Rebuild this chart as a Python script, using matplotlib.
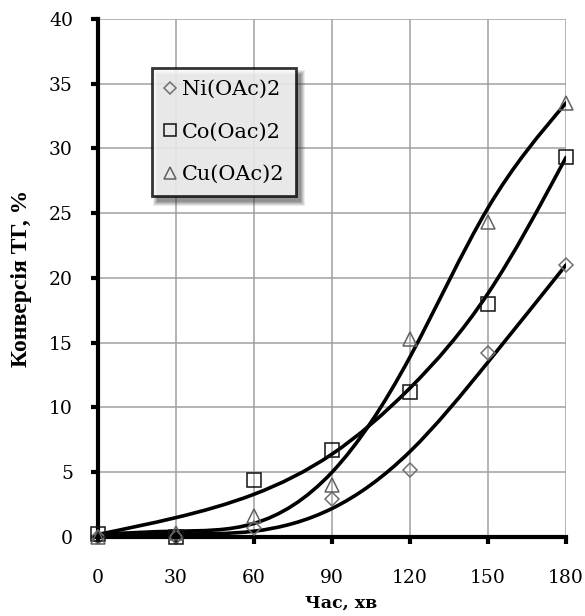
import numpy as np
import matplotlib
matplotlib.use("Agg")
import matplotlib.pyplot as plt
from matplotlib.path import Path
from matplotlib.patches import PathPatch, Rectangle

# measured points
time_min = [0, 30, 60, 90, 120, 150, 180]
ni_oac2 = [0.0, 0.0, 0.7, 2.9, 5.2, 14.2, 21.0]
co_oac2 = [0.2, 0.0, 4.4, 6.7, 11.2, 18.0, 29.3]
cu_oac2 = [0.0, 0.3, 1.6, 4.0, 15.3, 24.3, 33.5]
# trend (model) curves at the same times
ni_trend = [0.2, 0.25, 0.45, 2.2, 6.6, 13.5, 21.0]
co_trend = [0.2, 1.5, 3.3, 6.4, 11.5, 18.8, 29.3]
cu_trend = [0.2, 0.45, 1.05, 5.0, 13.9, 25.4, 33.5]
series_labels = ["Ni(OAc)2", "Co(Oac)2", "Cu(OAc)2"]
x_ticks = [0, 30, 60, 90, 120, 150, 180]
y_ticks = [0, 5, 10, 15, 20, 25, 30, 35, 40]

plt.rcParams['font.family'] = ['DejaVu Serif']


def smooth_path(xv, yv):
    """Natural cubic spline through the nodes, expressed as a Bezier path."""
    x = np.asarray(xv, float)
    y = np.asarray(yv, float)
    n = len(x)
    h = np.diff(x)
    A = np.zeros((n, n))
    b = np.zeros(n)
    A[0, 0] = A[-1, -1] = 1.0
    for i in range(1, n - 1):
        A[i, i - 1] = h[i - 1]
        A[i, i] = 2 * (h[i - 1] + h[i])
        A[i, i + 1] = h[i]
        b[i] = 6 * ((y[i + 1] - y[i]) / h[i] - (y[i] - y[i - 1]) / h[i - 1])
    M = np.linalg.solve(A, b)
    d = np.zeros(n)
    for i in range(n - 1):
        d[i] = (y[i + 1] - y[i]) / h[i] - h[i] * (2 * M[i] + M[i + 1]) / 6
    d[-1] = (y[-1] - y[-2]) / h[-1] + h[-1] * (M[-2] + 2 * M[-1]) / 6
    verts = [(x[0], y[0])]
    codes = [Path.MOVETO]
    for i in range(n - 1):
        verts += [(x[i] + h[i] / 3, y[i] + d[i] * h[i] / 3),
                  (x[i + 1] - h[i] / 3, y[i + 1] - d[i + 1] * h[i] / 3),
                  (x[i + 1], y[i + 1])]
        codes += [Path.CURVE4] * 3
    return Path(verts, codes)


fig = plt.figure(figsize=(5.85, 6.16), dpi=100)
ax = fig.add_axes([0.1675, 0.1282, 0.8, 0.8413])

markers = ['D', 's', '^']
msizes = [7.5, 9.5, 10]
mecs = ['#707070', '#111111', '#606060']
handles = []
for ys, tr, m, ms, mec, lab in zip([ni_oac2, co_oac2, cu_oac2],
                                   [ni_trend, co_trend, cu_trend],
                                   markers, msizes, mecs, series_labels):
    ax.add_patch(PathPatch(smooth_path(time_min, tr), fc='none', ec='black',
                           lw=2.6, zorder=3, capstyle='round'))
    h, = ax.plot(time_min, ys, linestyle='none', marker=m, ms=ms, mfc='none',
                 mec=mec, mew=1.1, zorder=4, clip_on=False, label=lab)
    handles.append(h)

ax.set_xlim(0, 180)
ax.set_ylim(0, 40)
ax.set_xticks(x_ticks)
ax.set_yticks(y_ticks)
ax.grid(True, color='#a0a0a0', lw=1.1)
ax.set_axisbelow(True)
for s in ['top', 'right']:
    ax.spines[s].set_visible(False)
for s in ['left', 'bottom']:
    ax.spines[s].set_linewidth(3)
    ax.spines[s].set_color('black')
ax.tick_params(axis='both', direction='out', length=5, width=3, labelsize=13.5)
ax.tick_params(axis='x', pad=18)
ax.tick_params(axis='y', pad=13)

ax.set_xlabel('Час, хв', fontsize=12.5, fontweight='bold')
ax.xaxis.set_label_coords(0.52, -0.112)
ax.set_ylabel('Конверсія ТГ, %', fontsize=17, fontweight='bold',
              family=['Liberation Serif'])
ax.yaxis.set_label_coords(-0.14, 0.5)

leg = ax.legend(handles=handles, loc='upper left', bbox_to_anchor=(0.115, 0.905),
                borderaxespad=0, fontsize=15, frameon=True, fancybox=False,
                markerscale=0.85, handlelength=0.6, handletextpad=0.26,
                labelspacing=1.13, borderpad=0.58)
leg.get_frame().set_edgecolor('black')
leg.get_frame().set_linewidth(2)
leg.set_zorder(10)

# soft drop shadow behind legend
fig.canvas.draw()
bb = leg.get_window_extent().transformed(fig.transFigure.inverted())
W, H = fig.get_size_inches() * fig.dpi
for k, a in enumerate([0.10, 0.12, 0.15, 0.18, 0.22]):
    grow = (4 - k) / W
    growy = (4 - k) / H
    ax.add_patch(Rectangle((bb.x0 + 5 / W - grow, bb.y0 - 6 / H - growy),
                           bb.width + 2 * grow, bb.height + 2 * growy,
                           transform=fig.transFigure, fc='#404040', ec='none',
                           alpha=a, zorder=9, clip_on=False))

fig.savefig('out.png', dpi=100)
